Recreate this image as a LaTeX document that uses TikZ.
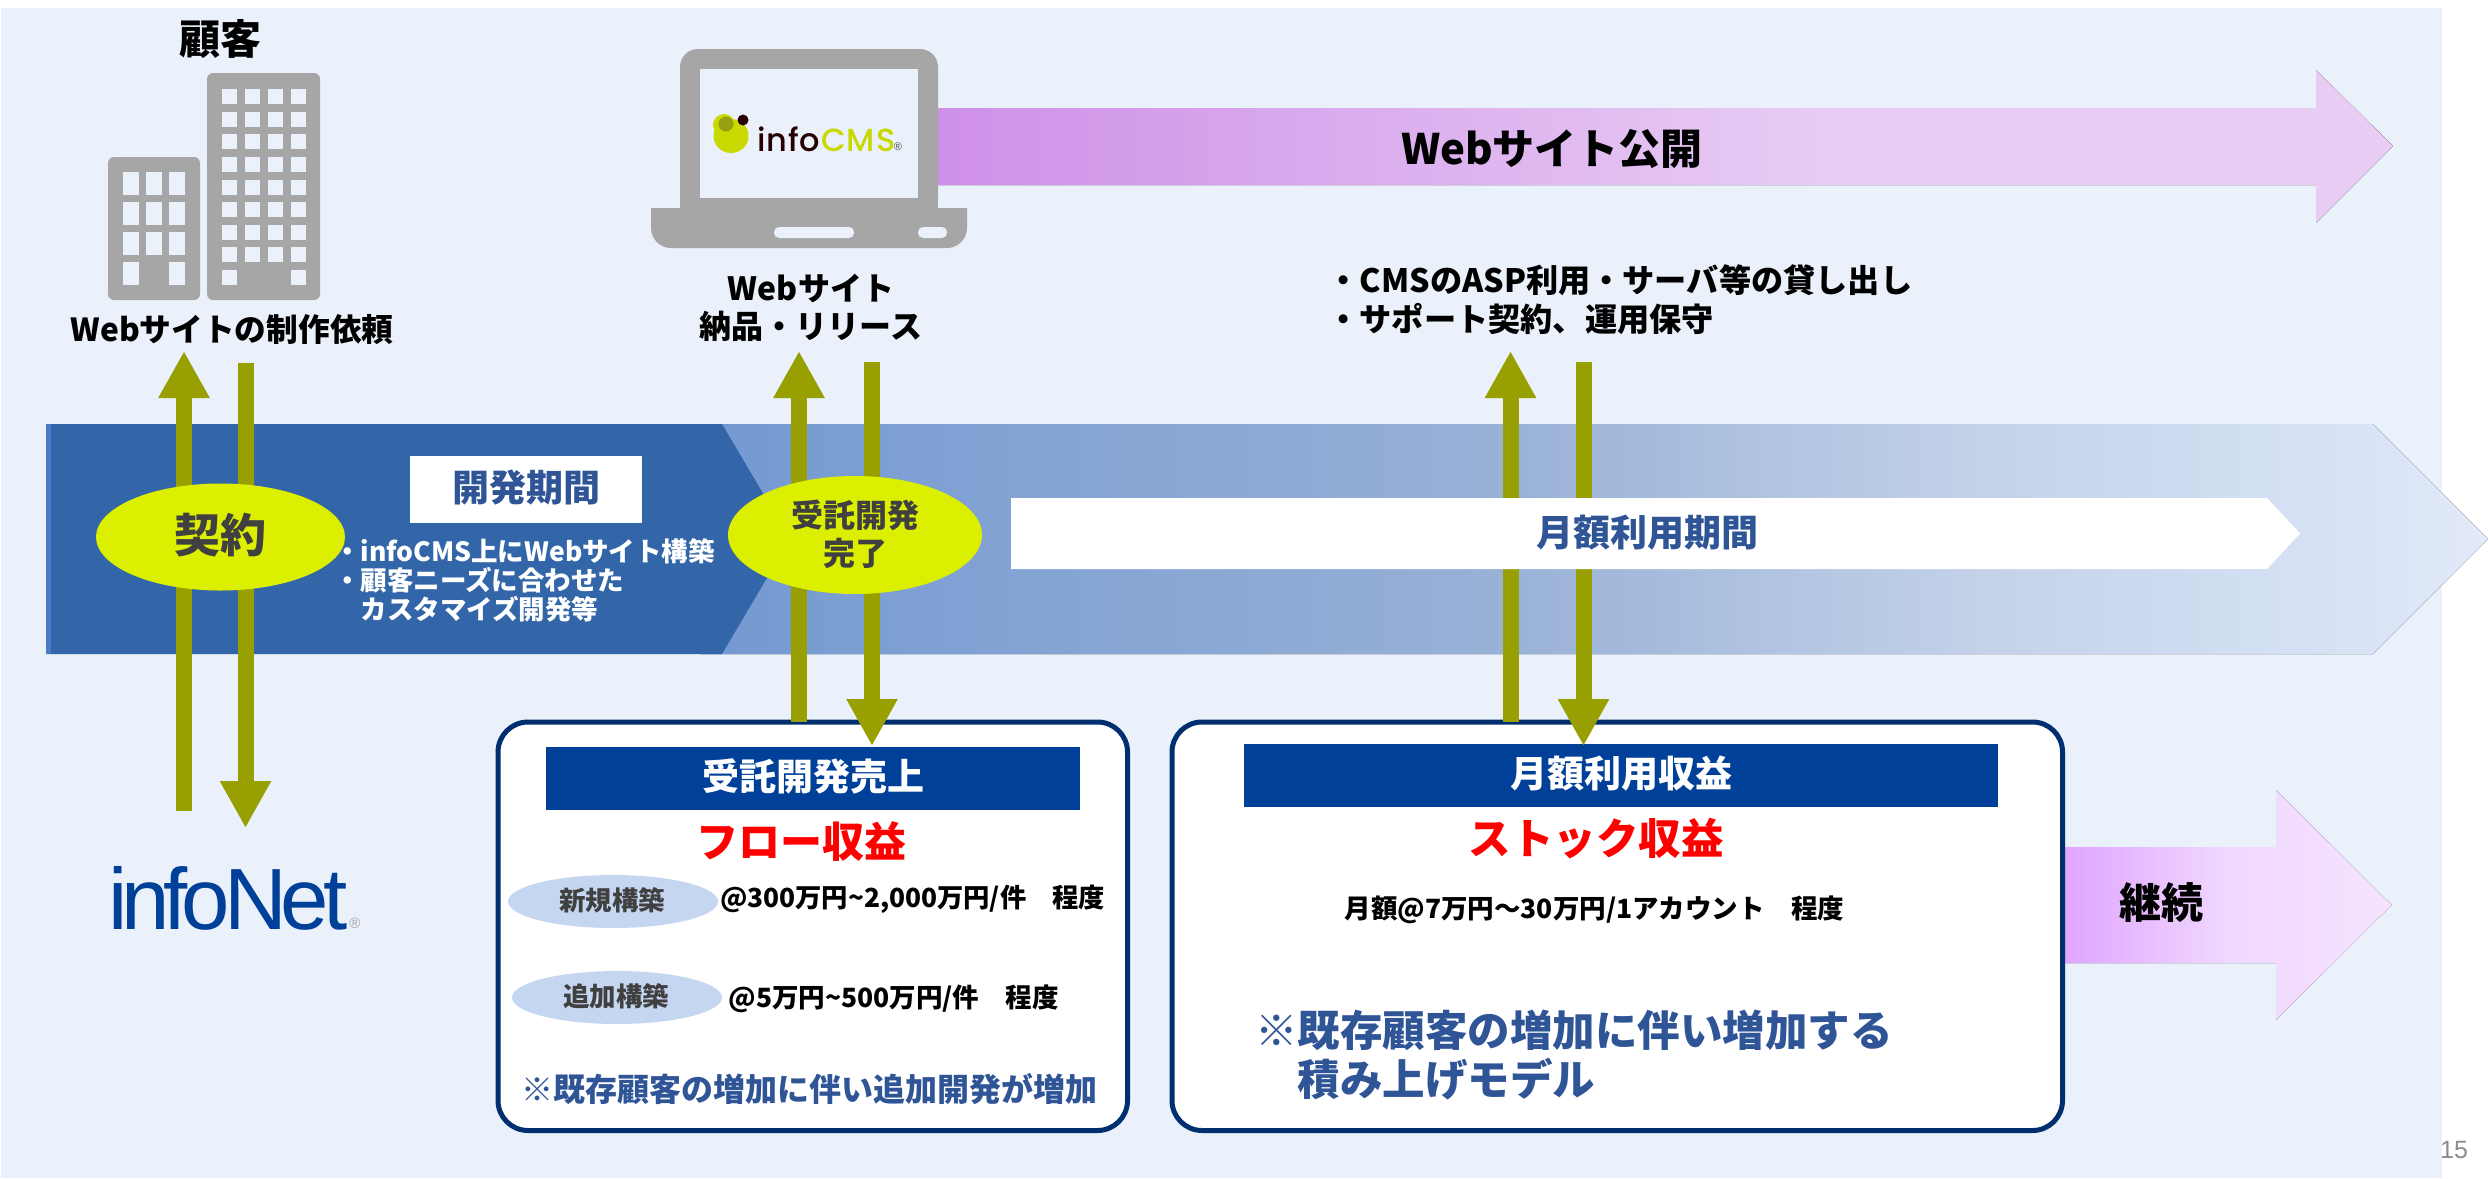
\documentclass[tikz,border=0pt]{standalone}
\usepackage{fontspec}
\usetikzlibrary{arrows.meta}
\setmainfont{Noto Sans CJK JP}
\newfontfamily\arialfont{Liberation Sans}
\newfontfamily\netfont[LetterSpace=-7]{Liberation Sans}
\newfontfamily\logofont[LetterSpace=3]{Poppins Medium}
\definecolor{bgc}{HTML}{EAF1FA}
\definecolor{barc}{HTML}{3366A8}
\definecolor{barl}{HTML}{4A7BCB}
\definecolor{olive}{HTML}{97A000}
\definecolor{limec}{HTML}{DDEF00}
\definecolor{txtb}{HTML}{2F5597}
\definecolor{boxl}{HTML}{002F6F}
\definecolor{headc}{HTML}{004098}
\definecolor{grayc}{HTML}{A6A6A6}
\definecolor{pale}{HTML}{C5D6F0}
\definecolor{logol}{HTML}{C8D900}
\definecolor{a0}{HTML}{7499D1}\definecolor{a1}{HTML}{81A2D3}\definecolor{a2}{HTML}{97B0D6}
\definecolor{a3}{HTML}{C4D2E9}\definecolor{a4}{HTML}{D9E4F6}\definecolor{a5}{HTML}{E3EAF9}
\definecolor{p0}{HTML}{CE90E8}\definecolor{p1}{HTML}{E8CCF4}
\definecolor{q0}{HTML}{E0A5FF}\definecolor{q1}{HTML}{F0D8FF}\definecolor{q2}{HTML}{F5E3FF}
\pgfdeclarehorizontalshading{longbar}{100bp}{color(0bp)=(a0);color(25bp)=(a0);color(33bp)=(a1);color(47bp)=(a2);color(61bp)=(a3);color(72bp)=(a4);color(75bp)=(a5);color(100bp)=(a5)}
\pgfdeclarehorizontalshading{purplebar}{100bp}{color(0bp)=(p0);color(25bp)=(p0);color(55.5bp)=(p1);color(100bp)=(p1)}
\pgfdeclarehorizontalshading{contbar}{100bp}{color(0bp)=(q0);color(25bp)=(q0);color(50bp)=(q1);color(75bp)=(q2);color(100bp)=(q2)}
\usetikzlibrary{shapes.geometric}
\tikzset{
  lbl/.style={inner sep=0pt,outer sep=0pt,font=\fontsize{#1}{#1}\selectfont\bfseries},
  lbll/.style={inner sep=0pt,outer sep=0pt,align=left,anchor=west,font=\fontsize{#1}{#1}\selectfont\bfseries},
  flow/.style={draw=olive,line width=16pt,-{Triangle[length=47pt,width=48pt]},shorten <=0pt},
  revbox/.style={draw=boxl,line width=5pt,fill=white,rounded corners=30pt,outer sep=0pt,inner sep=0pt},
  headbar/.style={fill=headc,draw=none,outer sep=0pt,inner sep=0pt},
  balloon/.style={ellipse,fill=limec,inner sep=0pt},
  pill/.style={ellipse,fill=pale,inner sep=0pt},
  win/.style={fill=bgc,draw=none},
}
\begin{document}
\begin{tikzpicture}[x=1pt,y=-1pt]
\useasboundingbox (0,0) rectangle (2488,1178);
\fill[white] (0,0) rectangle (2488,1178);
\fill[bgc] (1,8) rectangle (2442,1178);

% long bar
\fill[shading=longbar] (700,424)--(2373,424)--(2488,539)--(2373,654)--(700,654)--cycle;
\fill[barc] (46,424)--(722,424)--(790,539)--(722,654)--(46,654)--cycle;
\fill[barl] (46,424) rectangle (51,654);

% purple arrow
\fill[shading=purplebar] (938,108)--(2316,108)--(2316,70)--(2393,146)--(2316,223)--(2316,185)--(938,185)--cycle;
% continue arrow
\fill[shading=contbar] (2065,847)--(2276,847)--(2276,790)--(2391.5,905)--(2276,1020)--(2276,963)--(2065,963)--cycle;

% buildings
\fill[grayc,rounded corners=6pt] (108,157) rectangle (200,300);
\fill[grayc,rounded corners=6pt] (207,73) rectangle (320,300);
\foreach \x in {123,146,169}{\foreach \y in {172,202,232}{\fill[win] (\x,\y) rectangle ++(16,23);}}
\foreach \x in {123,169}{\fill[win] (\x,262) rectangle ++(16,23);}
\foreach \x in {222,245,268,291}{\foreach \y in {89,111.5,134,156.5,179.5,202,225,247}{\fill[win] (\x,\y) rectangle ++(15,15);}}
\foreach \x in {222,291}{\fill[win] (\x,270) rectangle ++(15,15);}

% laptop
\fill[grayc,rounded corners=18pt] (680,215)--(680,49)--(938,49)--(938,215)--cycle;
\fill[grayc] (680,200) rectangle (938,215);
\fill[grayc] (651,208)--(967,208)--(967,225) [rounded corners=20pt]--(967,248)--(651,248)[sharp corners]--(651,225)--cycle;
\fill[bgc] (700,69) rectangle (918,198);
\fill[bgc,rounded corners=5pt] (774,227) rectangle (854,238);
\fill[bgc,rounded corners=5pt] (918,227) rectangle (947,238);
% infoCMS logo
\fill[logol] (731,136) ellipse [x radius=17.5,y radius=17];
\fill[logol] (724,125) circle [radius=11];
\fill[olive!80!black!90,opacity=.75] (726,124) circle [radius=7.5];
\fill[black!85!red] (743,120) circle [radius=5.5];
\node[inner sep=0pt,anchor=base west,font=\fontsize{32}{32}\selectfont\logofont\color{black!85!red}] (logoinfo) at (757,151) {info};
\node[inner sep=0pt,anchor=base west,font=\fontsize{32}{32}\selectfont\logofont\color{logol}] (logocms) at (821,151) {CMS};
\node[inner sep=0pt,font=\fontsize{11}{11}\selectfont\arialfont\color{black!70}] (logoreg) at (898,147) {®};

% revenue boxes
\node[revbox,minimum width=629.5pt,minimum height=408.5pt,anchor=north west] (flowbox) at (498,722) {};
\node[revbox,minimum width=890.5pt,minimum height=408.5pt,anchor=north west] (stockbox) at (1172,722) {};
\node[headbar,minimum width=534pt,minimum height=63pt,anchor=north west] (flowhead) at (546,747) {};
\node[headbar,minimum width=754pt,minimum height=63pt,anchor=north west] (stockhead) at (1244,744) {};

% flow arrows
\coordinate (c1a) at (184,811);\coordinate (c1b) at (184,351);
\coordinate (c2a) at (245.5,363);\coordinate (c2b) at (245.5,828);
\coordinate (c3a) at (799,722);\coordinate (c3b) at (799,351);
\coordinate (c4a) at (872,362);\coordinate (c4b) at (872,746);
\coordinate (c5a) at (1510.5,722);\coordinate (c5b) at (1510.5,351);
\coordinate (c6a) at (1583.5,362);\coordinate (c6b) at (1583.5,746);
\draw[flow] (c1a)--(c1b);
\draw[flow] (c2a)--(c2b);
\draw[flow] (c3a)--(c3b);
\draw[flow] (c4a)--(c4b);
\draw[flow] (c5a)--(c5b);
\draw[flow] (c6a)--(c6b);

% white label pieces
\node[fill=white,minimum width=232.5pt,minimum height=66.5pt,inner sep=0pt,outer sep=0pt,anchor=north west] (devrect) at (409.5,456) {};
\node[lbl=37,text=txtb] (devt) at (526,488) {開発期間};
\fill[white] (1011,498)--(2267,498)--(2300,533.5)--(2267,569)--(1011,569)--cycle;
\node[lbl=37,text=txtb] (mont) at (1647,533) {月額利用期間};

% ellipses
\node[balloon,minimum width=249pt,minimum height=107pt] (keiyaku) at (220.5,537) {};
\node[lbl=46,text=black!75] (keiyakut) at (220.5,535) {契約};
\node[balloon,minimum width=254pt,minimum height=118pt] (kansei) at (855,535) {};
\node[lbl=32,text=black!75,align=center] (kanseit) at (855,534) {受託開発\\[6pt]完了};

% white bullets
\node[lbll=26.5,text=white] (bul) at (334,580.5) {・infoCMS上にWebサイト構築\\[2.7pt]・顧客ニーズに合わせた\\[2.7pt]　カスタマイズ開発等};

% top labels
\node[lbl=41] (cust) at (220,39) {顧客};
\node[lbl=31.7] (req) at (232,330) {Webサイトの制作依頼};
\node[lbl=32,align=center] (rel) at (811,308) {Webサイト\\[6pt]納品・リリース};
\node[lbl=42] (pub) at (1552,149) {Webサイト公開};
\node[lbll=32.2] (asp) at (1327.5,300) {・CMSのASP利用・サーバ等の貸し出し\\[6.8pt]・サポート契約、運用保守};

% infoNet
\node[inner sep=0pt,anchor=base west,font=\fontsize{87}{87}\selectfont\netfont,text=headc] (net) at (108,929) {infoNet};
\node[inner sep=0pt,font=\fontsize{15}{15}\selectfont\arialfont,text=black!35] (netreg) at (355,923) {®};

% box 1
\node[lbl=37,text=white] (ft) at (813,776) {受託開発売上};
\node[lbl=42,text=red] (fr) at (801,842) {フロー収益};
\node[pill,minimum width=210pt,minimum height=53pt] (p1) at (613,901.5) {};
\node[lbl=26.5,text=black!75] (p1t) at (612,900) {新規構築};
\node[pill,minimum width=210pt,minimum height=53pt] (p2) at (617,997.5) {};
\node[lbl=26.5,text=black!75] (p2t) at (616,996) {追加構築};
\node[lbll=26.3] (pr1) at (720,899) {@300万円\textasciitilde 2,000万円/件　程度};
\node[lbll=26.5] (pr2) at (728.5,999) {@5万円\textasciitilde 500万円/件　程度};
\node[lbl=32,text=txtb] (fn) at (809,1089) {※既存顧客の増加に伴い追加開発が増加};

% box 2
\node[lbl=37,text=white] (st) at (1621,774) {月額利用収益};
\node[lbl=42.5,text=red] (sr) at (1596,839) {ストック収益};
\node[lbll=26.5] (spr) at (1344.5,910) {月額@7万円～30万円/1アカウント　程度};
\node[lbll=42.5,text=txtb] (sn) at (1255,1055) {※既存顧客の増加に伴い増加する\\[6.5pt]　積み上げモデル};

\node[lbl=42] (cont) at (2161,903) {継続};
\node[inner sep=0pt,font=\fontsize{25}{25}\selectfont\arialfont,text=black!45] (pg) at (2454,1150) {15};
\end{tikzpicture}
\end{document}
